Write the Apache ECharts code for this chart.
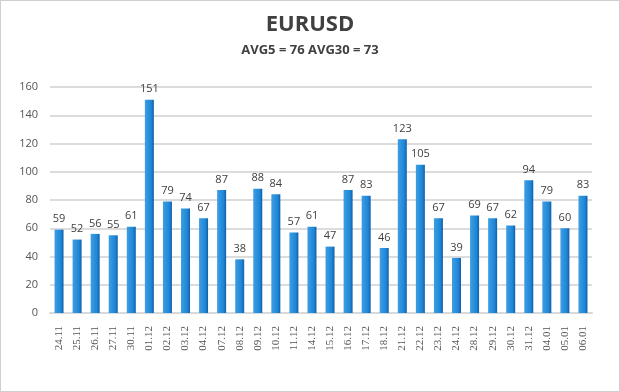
<!DOCTYPE html>
<html><head><meta charset="utf-8">
<script src="https://cdn.jsdelivr.net/npm/echarts@6/dist/echarts.min.js"></script>
<style>
html,body{margin:0;padding:0;background:#fff;}
#wrap{position:absolute;left:0;top:0;width:618px;height:390px;border:1px solid #d0d0d0;}
#c{width:620px;height:392px;position:absolute;left:0;top:0;}
</style></head>
<body><div id="wrap"></div><div id="c"></div>
<script>
const categories = ["24.11","25.11","26.11","27.11","30.11","01.12","02.12","03.12","04.12","07.12","08.12","09.12","10.12","11.12","14.12","15.12","16.12","17.12","18.12","21.12","22.12","23.12","24.12","28.12","29.12","30.12","31.12","04.01","05.01","06.01"];
const values = [59,52,56,55,61,151,79,74,67,87,38,88,84,57,61,47,87,83,46,123,105,67,39,69,67,62,94,79,60,83];
const titleText = "EURUSD";
const subtitleText = "AVG5 = 76 AVG30 = 73";
const yTicks = {min:0, max:160, interval:20};

const chart = echarts.init(document.getElementById('c'), null, {renderer:'canvas'});
chart.setOption({
  animation:false,
  title:{
    text:titleText, subtext:subtitleText, left:'center', top:9, itemGap:8,
    textStyle:{fontFamily:'Open Sans',fontSize:22,fontWeight:'bold',color:'#404040'},
    subtextStyle:{fontFamily:'Open Sans',fontSize:13,fontWeight:'bold',color:'#404040'}
  },
  grid:{left:50,right:28,top:87,bottom:79},
  xAxis:{
    type:'category', data:categories,
    axisLine:{lineStyle:{color:'#d9d9d9',width:2}},
    axisTick:{show:false},
    axisLabel:{rotate:90,color:'#555',fontFamily:'Liberation Serif',fontSize:11,margin:13}
  },
  yAxis:{
    type:'value', min:yTicks.min, max:yTicks.max, interval:yTicks.interval,
    axisLine:{show:false}, axisTick:{show:false},
    axisLabel:{color:'#555',fontFamily:'Open Sans',fontSize:11,margin:12},
    splitLine:{lineStyle:{color:'#dcdcdc',width:2}}
  },
  series:[{
    type:'bar', data:values, barWidth:9,
    itemStyle:{color:new echarts.graphic.LinearGradient(0,0,1,0,[
      {offset:0,color:'#3d9fe4'},{offset:0.7,color:'#1f86d6'},{offset:1,color:'#0f5fa8'}])},
    label:{show:true,position:'top',distance:5,color:'#404040',fontFamily:'Open Sans',fontSize:11}
  }]
});
</script></body></html>
